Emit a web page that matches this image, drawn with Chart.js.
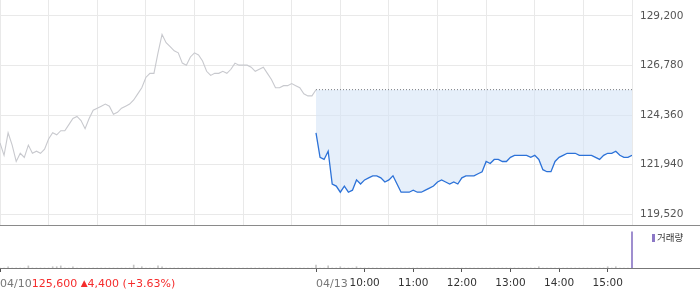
<!DOCTYPE html>
<html>
<head>
<meta charset="utf-8">
<script src="https://cdn.jsdelivr.net/npm/chart.js@4"></script>
<style>
html, body { margin: 0; padding: 0; background: #fff; }
#wrap { position: relative; width: 700px; height: 289px; overflow: hidden; }
#priceBox { position: absolute; left: 0; top: 0; width: 700px; height: 225px; }
#sep { position: absolute; left: 0; top: 225px; width: 700px; height: 1px; background: #8a8a8a; }
#volBox { position: absolute; left: 0; top: 226px; width: 700px; height: 63px; }
#legend { position: absolute; left: 652px; top: 230px; font: 9.5px "Noto Sans CJK KR", sans-serif; color: #333; line-height: 14px; }
#legend i { display: inline-block; width: 3px; height: 8px; background: #8c78c6; margin-right: 2px; vertical-align: -1px; }
</style>
</head>
<body>
<div id="wrap">
  <div id="priceBox"><canvas id="graficoPrecio"></canvas></div>
  <div id="sep"></div>
  <div id="volBox"><canvas id="graficoVolumen"></canvas></div>
  <div id="legend"><i></i>거래량</div>
</div>
<script>
//* minutos de sesion: 09:00 - 15:30, dos dias seguidos
const STEP = 5;
const DAY = 390;

const dayLabels = ['04/10', '04/13'];
const hourTicks = [450, 510, 570, 630, 690, 750];
const hourLabels = ['10:00', '11:00', '12:00', '13:00', '14:00', '15:00'];
const priceTicks = [119520, 121940, 124360, 126780, 129200];

const prevClose = 125600;
const changeText = ['125,600', '▲', '4,400 (+3.63%)'];

//* precios cada 5 minutos
const prevPrices = [123000, 122400, 123500, 122900, 122100, 122500, 122300, 122900, 122500, 122600,
  122500, 122700, 123200, 123500, 123400, 123600, 123600, 123900, 124200, 124300,
  124100, 123700, 124200, 124600, 124700, 124800, 124900, 124800, 124400, 124500,
  124700, 124800, 124900, 125100, 125400, 125700, 126200, 126400, 126400, 127400,
  128300, 127900, 127700, 127500, 127400, 126900, 126800, 127200, 127400, 127300,
  127000, 126500, 126300, 126400, 126400, 126500, 126400, 126600, 126900, 126800,
  126800, 126800, 126700, 126500, 126600, 126700, 126400, 126100, 125700, 125700,
  125800, 125800, 125900, 125800, 125700, 125400, 125300, 125300, 125600];

const todayPrices = [123500, 122300, 122200, 122600, 121000, 120900, 120600, 120900, 120600, 120700,
  121200, 121000, 121200, 121300, 121400, 121400, 121300, 121100, 121200, 121400,
  121000, 120600, 120600, 120600, 120700, 120600, 120600, 120700, 120800, 120900,
  121100, 121200, 121100, 121000, 121100, 121000, 121300, 121400, 121400, 121400,
  121500, 121600, 122100, 122000, 122200, 122200, 122100, 122100, 122300, 122400,
  122400, 122400, 122400, 122300, 122400, 122200, 121700, 121600, 121600, 122100,
  122300, 122400, 122500, 122500, 122500, 122400, 122400, 122400, 122400, 122300,
  122200, 122400, 122500, 122500, 122600, 122400, 122300, 122300, 122400];

const prevVolume = [0, 0, 3, 0, 0, 0, 0, 5, 0, 0, 0, 0, 0, 3, 3, 5, 0, 0, 3, 0,
  0, 0, 0, 0, 0, 0, 0, 0, 0, 0, 0, 0, 0, 7, 0, 3, 0, 0, 0, 5,
  3, 0, 0, 0, 0, 0, 0, 0, 0, 0, 0, 0, 0, 0, 0, 0, 0, 0, 0, 0,
  0, 0, 0, 0, 0, 0, 0, 0, 0, 0, 0, 0, 0, 0, 0, 0, 0, 0, 7];

const todayVolume = [0, 0, 0, 5, 0, 0, 3, 0, 0, 0, 3, 0, 0, 0, 0, 0, 0, 0, 0, 0,
  0, 0, 0, 0, 0, 0, 0, 0, 0, 0, 0, 0, 0, 0, 0, 0, 0, 0, 0, 0,
  0, 0, 0, 0, 0, 0, 0, 0, 0, 0, 0, 0, 0, 0, 0, 3, 0, 0, 0, 0,
  0, 0, 0, 0, 0, 0, 0, 0, 0, 0, 0, 0, 3, 0, 3, 0, 0, 0, 86];

const FONT = 'DejaVu Sans';
const AXIS_W = 68;

const prevPoints = prevPrices.map((v, i) => ({ x: i * STEP, y: v }));
const todayPoints = todayPrices.map((v, i) => ({ x: DAY + i * STEP, y: v }));
const volPoints = prevVolume.map((v, i) => ({ x: i * STEP, y: v }))
  .concat(todayVolume.map((v, i) => ({ x: DAY + i * STEP, y: v })));
const volColors = volPoints.map((p, i) => i === volPoints.length - 1 ? '#8c78c6' : '#c4c4c4');

//* grafico de precios
new Chart(document.getElementById('graficoPrecio').getContext('2d'), {
    type: 'line',
    data: {
        datasets: [{
            data: prevPoints,
            borderColor: '#c8c9ce',
            borderWidth: 1.1,
            pointRadius: 0,
            fill: false
        }, {
            data: todayPoints,
            borderColor: '#2c72d8',
            borderWidth: 1.3,
            pointRadius: 0,
            fill: { value: prevClose },
            backgroundColor: 'rgba(214, 228, 247, 0.6)'
        }, {
            data: [{ x: DAY, y: prevClose }, { x: 2 * DAY, y: prevClose }],
            borderColor: '#555',
            borderWidth: 1,
            borderDash: [1, 2],
            pointRadius: 0,
            fill: false
        }]
    },
    options: {
        responsive: true,
        maintainAspectRatio: false,
        animation: false,
        layout: { padding: 0 },
        plugins: { legend: { display: false }, tooltip: { enabled: false } },
        scales: {
            x: {
                type: 'linear',
                min: 0,
                max: 2 * DAY,
                ticks: { stepSize: 60, display: false },
                grid: { color: '#e9e9e9', drawTicks: false },
                border: { display: false },
                afterFit: s => { s.height = 0; }
            },
            y: {
                position: 'right',
                min: 119000,
                max: 129980,
                afterBuildTicks: s => { s.ticks = priceTicks.map(v => ({ value: v })); },
                ticks: {
                    padding: 8,
                    color: '#555',
                    font: { family: FONT, size: 10.5 },
                    callback: v => v.toLocaleString('en-US')
                },
                grid: { color: '#e9e9e9', drawTicks: false },
                border: { display: false },
                afterFit: s => { s.width = AXIS_W; s.paddingTop = 0; s.paddingBottom = 0; }
            }
        }
    }
});

//* fechas y variacion debajo del eje
const etiquetasFecha = {
    id: 'etiquetasFecha',
    afterDraw(chart) {
        const ctx = chart.ctx;
        const x = chart.scales.x;
        const bottom = chart.chartArea.bottom;
        ctx.save();
        ctx.strokeStyle = '#777';
        ctx.lineWidth = 1;
        ctx.beginPath();
        ctx.moveTo(0, bottom + 0.5);
        ctx.lineTo(chart.width, bottom + 0.5);
        ctx.stroke();

        ctx.font = '11px "' + FONT + '"';
        ctx.textBaseline = 'middle';
        ctx.textAlign = 'left';
        const ty = bottom + 16;
        let px = x.getPixelForValue(0);
        ctx.fillStyle = '#777';
        ctx.fillText(dayLabels[0], px, ty);
        px += ctx.measureText(dayLabels[0]).width;
        ctx.fillStyle = '#f52c2c';
        ctx.fillText(changeText[0], px, ty);
        px += ctx.measureText(changeText[0] + ' ').width;
        ctx.font = '9px "' + FONT + '"';
        ctx.fillText(changeText[1], px, ty);
        px += ctx.measureText(changeText[1]).width;
        ctx.font = '11px "' + FONT + '"';
        ctx.fillText(changeText[2], px, ty);

        ctx.fillStyle = '#777';
        ctx.fillText(dayLabels[1], x.getPixelForValue(DAY), ty);
        ctx.restore();
    }
};

//* grafico de volumen
new Chart(document.getElementById('graficoVolumen').getContext('2d'), {
    type: 'bar',
    data: {
        datasets: [{
            data: volPoints,
            backgroundColor: volColors,
            barThickness: 1,
            borderWidth: 0,
            clip: false
        }]
    },
    options: {
        responsive: true,
        maintainAspectRatio: false,
        animation: false,
        layout: { padding: 0 },
        plugins: { legend: { display: false }, tooltip: { enabled: false } },
        scales: {
            x: {
                type: 'linear',
                min: 0,
                max: 2 * DAY,
                offset: false,
                afterBuildTicks: s => { s.ticks = [0, DAY].concat(hourTicks).map(v => ({ value: v })); },
                ticks: {
                    autoSkip: false,
                    maxRotation: 0,
                    padding: 5,
                    color: '#333',
                    font: { family: FONT, size: 10.5 },
                    callback: v => {
                        const k = hourTicks.indexOf(v);
                        return k >= 0 ? hourLabels[k] : '';
                    }
                },
                grid: { drawOnChartArea: false, drawTicks: true, tickLength: 4, color: '#555', offset: false },
                border: { display: false },
                afterFit: s => { s.height = 21; s.paddingLeft = 0; s.paddingRight = 0; }
            },
            y: {
                position: 'right',
                min: 0,
                max: 100,
                ticks: { display: false },
                grid: { display: false },
                border: { display: false },
                afterFit: s => { s.width = AXIS_W; }
            }
        }
    },
    plugins: [etiquetasFecha]
});
</script>
</body>
</html>
